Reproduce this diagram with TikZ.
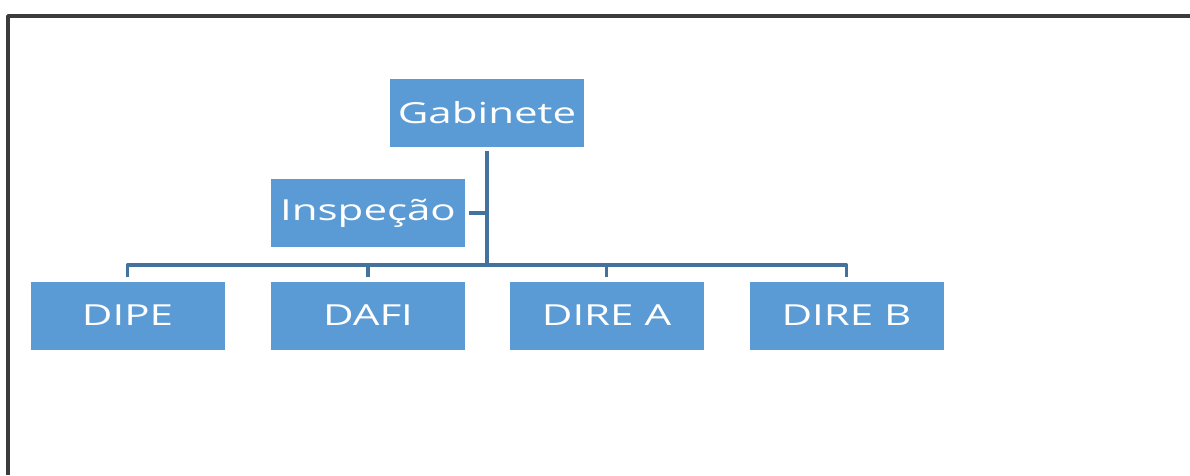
\documentclass[tikz,border=0pt]{standalone}
\usepackage{fontspec}
\setmainfont{Open Sans}
\usetikzlibrary{positioning}
\definecolor{boxblue}{RGB}{91,155,213}
\definecolor{linkblue}{RGB}{68,114,158}
\definecolor{framegray}{RGB}{60,60,60}
\newcommand{\wide}[1]{\scalebox{1.45}[1]{#1}}
\begin{document}
\begin{tikzpicture}[line cap=round,line join=round,x=1pt,y=-1pt,
  unit/.style={fill=boxblue,text=white,minimum width=194pt,minimum height=68pt,
    inner sep=0pt,font=\fontsize{29}{31}\selectfont},
  conn/.style={draw=linkblue,line width=3.2pt,line cap=butt}]
\useasboundingbox (0,0) rectangle (1190,475);
\draw [framegray,line width=3.4pt,line cap=butt] (8,475) -- (8,16) -- (1190,16);
% boxes
\node[unit] (gab) at (487,113) {\wide{Gabinete}};
\node[unit] (insp) at (368,213) {\wide{Inspeção}};
\node[unit] (dipe) at (127.5,315.5) {\wide{DIPE}};
\node[unit] (dafi) at (368,315.5) {\wide{DAFI}};
\node[unit] (direa) at (606.5,315.5) {\wide{DIRE A}};
\node[unit] (direb) at (846.5,315.5) {\wide{DIRE B}};
\coordinate (bus) at (487,265);
% links
\draw [conn] ([yshift=-4pt]gab.south) -- (bus);
\draw [conn] ([xshift=4pt]insp.east) -- (insp.east -| bus);
\draw [conn] ([yshift=4pt]dipe.north) |- (bus) -| ([yshift=4pt]direb.north);
\foreach \n in {dafi,direa}
  \draw [conn] ([yshift=4pt]\n.north) -- (\n.north |- bus);
\end{tikzpicture}
\end{document}
